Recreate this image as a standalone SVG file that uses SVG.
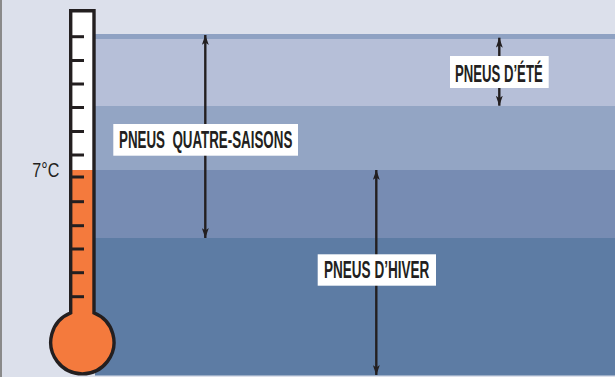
<svg xmlns="http://www.w3.org/2000/svg" width="615" height="377" viewBox="0 0 615 377">
  <defs>
    <marker id="ah" viewBox="0 0 10 7" refX="10" refY="3.5" markerWidth="10" markerHeight="7" markerUnits="userSpaceOnUse" orient="auto-start-reverse">
      <path d="M0,0 L10,3.5 L0,7 L2.5,3.5 Z" fill="#231f20"/>
    </marker>
    <style>
      .lbl { font-family: "Liberation Sans", "DejaVu Sans", sans-serif; font-size: 23.5px; font-weight: bold; fill: #231f20; }
      .box { fill: #ffffff; }
      .arr { stroke: #231f20; stroke-width: 2.4; fill: none; marker-start: url(#ah); marker-end: url(#ah); }
      .tick { stroke: #231f20; stroke-width: 3; }
    </style>
  </defs>
  <rect x="0" y="0" width="615" height="377" fill="#dce0eb"/>
  <rect x="0" y="0" width="2" height="377" fill="#8a8a8a"/>
  <g id="bands">
    <rect x="95" y="34" width="520" height="5" fill="#8fa2c3"/>
    <rect x="95" y="39" width="520" height="67" fill="#b6bfd8"/>
    <rect x="95" y="106" width="520" height="64" fill="#93a5c4"/>
    <rect x="95" y="170" width="520" height="68" fill="#778cb3"/>
    <rect x="95" y="238" width="520" height="137.5" fill="#5d7ca4"/>
  </g>
  <g id="thermometer">
    <path d="M70.7,312.9 V10.7 H94 V312.9 A31.6,31.6 0 1 1 70.7,312.9 Z" fill="#f47a3d"/>
    <rect x="70.7" y="10.7" width="23.3" height="159.3" fill="#ffffff"/>
    <path d="M70.7,312.9 V10.7 H94 V312.9 A31.6,31.6 0 1 1 70.7,312.9 Z" fill="none" stroke="#231f20" stroke-width="3.4" stroke-linejoin="miter"/>
    <g>
      <line class="tick" x1="72" y1="36.7" x2="84" y2="36.7"/>
      <line class="tick" x1="72" y1="60.5" x2="84" y2="60.5"/>
      <line class="tick" x1="72" y1="84" x2="84" y2="84"/>
      <line class="tick" x1="72" y1="107.5" x2="84" y2="107.5"/>
      <line class="tick" x1="72" y1="131.5" x2="84" y2="131.5"/>
      <line class="tick" x1="72" y1="155" x2="84" y2="155"/>
      <line class="tick" x1="72" y1="177" x2="84" y2="177"/>
      <line class="tick" x1="72" y1="201.7" x2="84" y2="201.7"/>
      <line class="tick" x1="72" y1="225.7" x2="84" y2="225.7"/>
      <line class="tick" x1="72" y1="249" x2="84" y2="249"/>
      <line class="tick" x1="72" y1="272.7" x2="84" y2="272.7"/>
      <line class="tick" x1="72" y1="296.7" x2="84" y2="296.7"/>
    </g>
    <text class="lbl" x="32.3" y="177.3" style="font-size:21px;font-weight:normal" textLength="27" lengthAdjust="spacingAndGlyphs">7°C</text>
  </g>
  <g id="connectors">
    <line class="arr" x1="205.3" y1="35" x2="205.3" y2="238"/>
    <line class="arr" x1="499.3" y1="37.7" x2="499.3" y2="105.7"/>
    <line class="arr" x1="376.3" y1="170" x2="376.3" y2="375"/>
  </g>
  <g id="label-ete">
    <rect class="box" x="450" y="56" width="98.7" height="32"/>
    <text class="lbl" x="455" y="81.7" textLength="87.7" lengthAdjust="spacingAndGlyphs">PNEUS D’ÉTÉ</text>
  </g>
  <g id="label-quatre-saisons">
    <rect class="box" x="113.3" y="124" width="184.7" height="31.7"/>
    <text class="lbl" x="119" y="148.3" xml:space="preserve" textLength="173.3" lengthAdjust="spacingAndGlyphs">PNEUS  QUATRE-SAISONS</text>
  </g>
  <g id="label-hiver">
    <rect class="box" x="317.7" y="254.3" width="118.3" height="31.4"/>
    <text class="lbl" x="324" y="278.3" textLength="105.3" lengthAdjust="spacingAndGlyphs">PNEUS D’HIVER</text>
  </g>
</svg>
